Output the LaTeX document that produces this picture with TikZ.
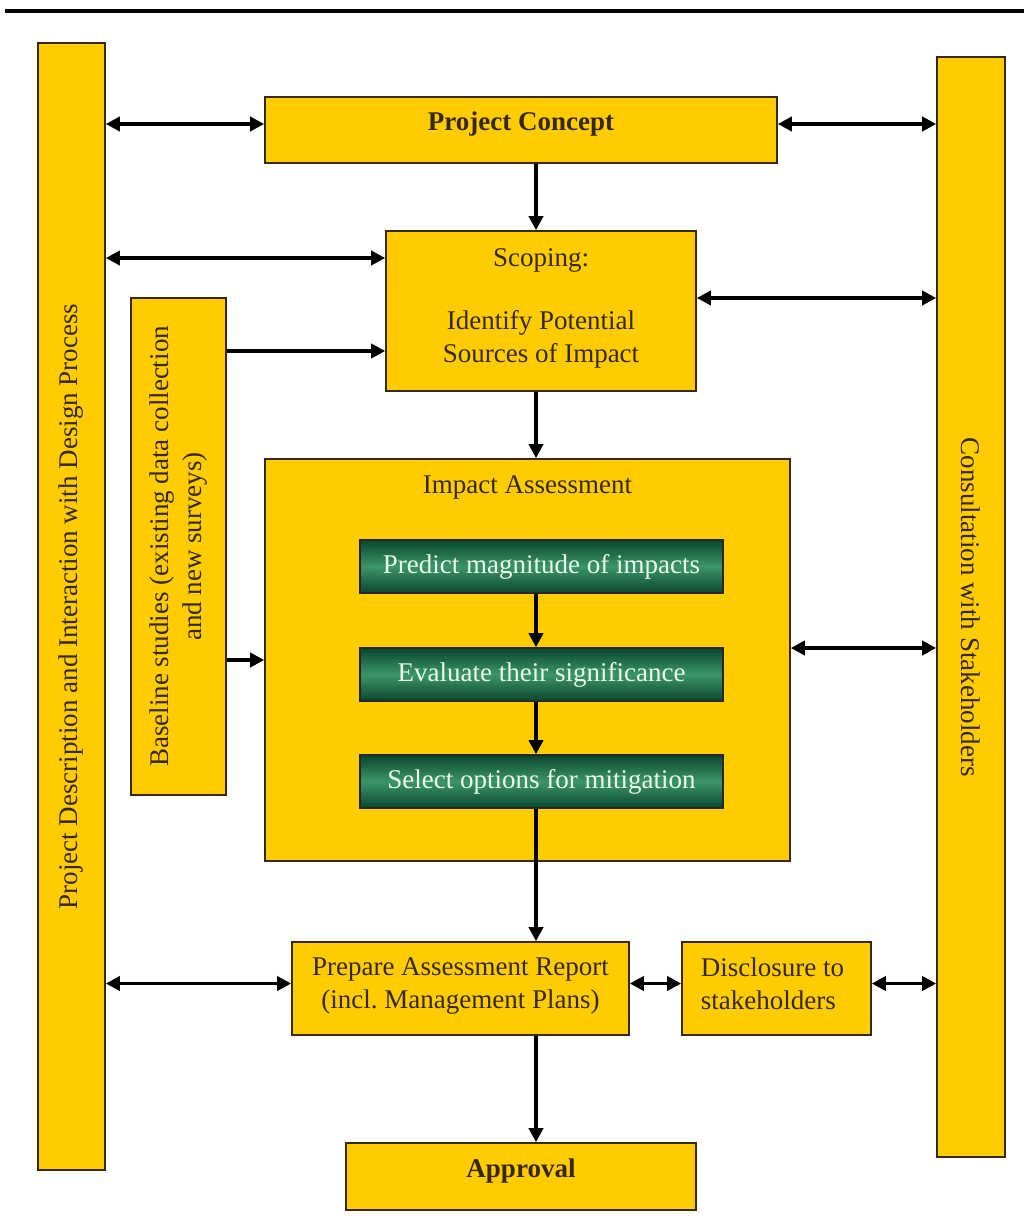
\documentclass[tikz,border=0pt]{standalone}
\usepackage{fontspec}
\setmainfont{Liberation Serif}
\usepackage{xcolor}
\definecolor{ylw}{RGB}{255,204,0}
\definecolor{brn}{RGB}{55,40,10}
\definecolor{dg}{RGB}{10,70,45}
\definecolor{lg}{RGB}{60,150,105}
\usepackage{tikz}
\usetikzlibrary{arrows.meta, positioning, calc}
\tikzstyle{block} = [draw=brn, line width=1.6pt, fill=ylw, rectangle, text=brn, inner sep=0pt]
\tikzstyle{gblock} = [draw=black!85, line width=1.6pt, rectangle, top color=dg, bottom color=dg, middle color=lg, text=white!92!green, minimum width=363pt, minimum height=53pt]
\tikzstyle{arr} = [line width=3.6pt, -{Triangle[length=14pt,width=14pt]}]
\tikzstyle{darr} = [line width=3.6pt, {Triangle[length=14pt,width=14pt]}-{Triangle[length=14pt,width=14pt]}]

\begin{document}
\begin{tikzpicture}[x=1pt, y=-1pt, font=\fontsize{27}{33}\selectfont]
    \useasboundingbox (0,0) rectangle (1024,1231);
    \draw[line width=4pt] (5,11) -- (1024,11);

    % side bars
    \node[block, minimum width=67pt, minimum height=1127pt] (desc) at (71.5,606.5) {};
    \node[rotate=90, text=brn] (desct) at (desc.center) {Project Description and Interaction with Design Process};
    \node[block, minimum width=68pt, minimum height=1100pt] (cons) at (971,607) {};
    \node[rotate=-90, text=brn] (const) at (cons.center) {Consultation with Stakeholders};

    % main chain
    \node[block, minimum width=512pt, minimum height=66pt, text depth=17pt] (pc) at (521,130) {\bfseries Project Concept};
    \node[block, minimum width=310pt, minimum height=160pt, align=center] (scp) at (541,311) {};
    \node[text=brn, align=center] (scpt) at ($(scp.center)+(0,-3)$)
    {Scoping:\\[30pt] Identify Potential\\ Sources of Impact};
    \node[block, minimum width=95pt, minimum height=497pt] (base) at (178.5,546.5) {};
    \node[rotate=90, text=brn, align=center] (baset) at (base.center)
    {Baseline studies (existing data collection\\ and new surveys)};
    \node[block, minimum width=525pt, minimum height=402pt] (ia) at (527.5,660) {};
    \node[text=brn] (iat) at ($(ia.north)+(0,29)$) {Impact Assessment};

    % green steps
    \node[gblock] (pred) at (541.5,566.5) {Predict magnitude of impacts};
    \node[gblock] (eval) at (541.5,674.5) {Evaluate their significance};
    \node[gblock] (sel) at (541.5,781.5) {Select options for mitigation};

    % report, disclosure, approval
    \node[block, minimum width=337pt, minimum height=93pt] (rep) at (460.5,988.5) {};
    \node[text=brn, align=center] (rept) at ($(rep.center)+(0,-3)$)
    {Prepare Assessment Report\\ (incl.\ Management Plans)};
    \node[block, minimum width=189pt, minimum height=93pt] (disc) at (776.5,988.5) {};
    \node[text=brn, align=left] (disct) at ($(disc.center)+(-4,-5)$)
    {Disclosure to\\ stakeholders};
    \node[block, minimum width=350pt, minimum height=67pt, text depth=17pt] (appr) at (521,1176.5) {\bfseries Approval};

    % vertical arrows
    \coordinate (ax) at (536,0);
    \draw[arr] (pc.south -| ax) -- (scp.north -| ax);
    \draw[arr] (scp.south -| ax) -- (ia.north -| ax);
    \draw[arr] (pred.south -| ax) -- (eval.north -| ax);
    \draw[arr] (eval.south -| ax) -- (sel.north -| ax);
    \draw[arr] (sel.south -| ax) -- (rep.north -| ax);
    \draw[arr] (rep.south -| ax) -- (appr.north -| ax);

    % horizontal arrows
    \coordinate (pl) at ([yshift=6pt]pc.west);
    \coordinate (pr) at ([yshift=6pt]pc.east);
    \coordinate (sl) at ([yshift=53pt]scp.west);
    \coordinate (sr) at ([yshift=13pt]scp.east);
    \coordinate (sb) at ([yshift=-40pt]scp.west);
    \coordinate (ir) at ([yshift=12pt]ia.east);
    \coordinate (rl) at ([yshift=5pt]rep.west);
    \coordinate (rr) at ([yshift=5pt]rep.east);
    \coordinate (dr) at ([yshift=5pt]disc.east);
    \draw[darr] (desc.east |- pl) -- (pl);
    \draw[darr] (pr) -- (cons.west |- pr);
    \draw[darr] (desc.east |- sl) -- (sl);
    \draw[darr] (sr) -- (cons.west |- sr);
    \draw[arr] (base.east |- sb) -- (sb);
    \draw[arr] (base.east |- ia) -- (ia.west);
    \draw[darr] (ir) -- (cons.west |- ir);
    \draw[darr] (desc.east |- rl) -- (rl);
    \draw[darr] (rr) -- (disc.west |- rr);
    \draw[darr] (dr) -- (cons.west |- dr);
\end{tikzpicture}
\end{document}
